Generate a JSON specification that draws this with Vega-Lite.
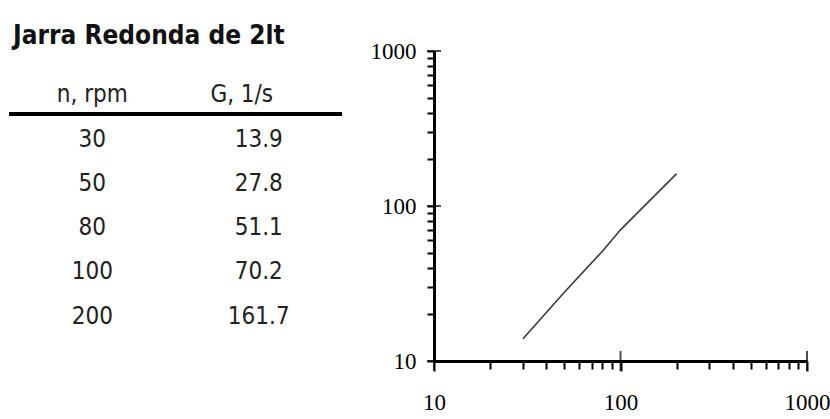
{
  "$schema": "https://vega.github.io/schema/vega-lite/v6.json",
  "padding": {"left": 7, "top": 23, "right": 0, "bottom": 0},
  "autosize": {"type": "pad"},
  "spacing": 26,
  "config": {
    "view": {"stroke": null},
    "axis": {
      "domainColor": "black",
      "tickColor": "black",
      "labelColor": "black",
      "labelFont": "Liberation Serif, DejaVu Serif, serif",
      "labelFontSize": 23,
      "grid": false,
      "title": null
    }
  },
  "datasets": {
    "table": [
      {"row": 0, "col": "n, rpm", "text": "n, rpm"},
      {"row": 0, "col": "G, 1/s", "text": "G, 1/s"},
      {"row": 1, "col": "n, rpm", "text": "30"},
      {"row": 1, "col": "G, 1/s", "text": "13.9"},
      {"row": 2, "col": "n, rpm", "text": "50"},
      {"row": 2, "col": "G, 1/s", "text": "27.8"},
      {"row": 3, "col": "n, rpm", "text": "80"},
      {"row": 3, "col": "G, 1/s", "text": "51.1"},
      {"row": 4, "col": "n, rpm", "text": "100"},
      {"row": 4, "col": "G, 1/s", "text": "70.2"},
      {"row": 5, "col": "n, rpm", "text": "200"},
      {"row": 5, "col": "G, 1/s", "text": "161.7"}
    ],
    "series": [
      {"n": 30, "G": 13.9},
      {"n": 50, "G": 27.8},
      {"n": 80, "G": 51.1},
      {"n": 100, "G": 70.2},
      {"n": 200, "G": 161.7}
    ],
    "majors": [
      {"v": 10},
      {"v": 100},
      {"v": 1000}
    ]
  },
  "hconcat": [
    {
      "width": 333,
      "height": 310,
      "title": {
        "text": "Jarra Redonda de 2lt",
        "anchor": "start",
        "font": "DejaVu Sans Condensed, sans-serif",
        "fontSize": 26,
        "fontWeight": "bold",
        "color": "#111",
        "offset": 2,
        "dx": 6
      },
      "layer": [
        {
          "data": {"values": [{}]},
          "mark": {"type": "rule", "color": "black", "strokeWidth": 4},
          "encoding": {"y": {"datum": 0.42, "type": "quantitative"}}
        },
        {
          "data": {"name": "table"},
          "transform": [{"filter": "datum.row > 0 || datum.col == 'n, rpm'"}],
          "mark": {"type": "text", "font": "DejaVu Sans Condensed, sans-serif", "fontSize": 24, "color": "#222"},
          "encoding": {
            "x": {"field": "col", "type": "nominal", "scale": {"type": "point", "domain": ["n, rpm", "G, 1/s"], "padding": 0.5}, "axis": null},
            "y": {"field": "row", "type": "quantitative", "scale": {"domain": [-0.68, 5.52], "reverse": true}, "axis": null},
            "text": {"field": "text"}
          }
        },
        {
          "data": {"name": "table"},
          "transform": [{"filter": "datum.row == 0 && datum.col == 'G, 1/s'"}],
          "mark": {"type": "text", "font": "DejaVu Sans Condensed, sans-serif", "fontSize": 24, "color": "#222", "dx": -17},
          "encoding": {
            "x": {"field": "col", "type": "nominal"},
            "y": {"field": "row", "type": "quantitative"},
            "text": {"field": "text"}
          }
        }
      ]
    },
    {
      "width": 373,
      "height": 310,
      "layer": [
        {
          "data": {"name": "series"},
          "mark": {"type": "line", "color": "#3a3a3a", "strokeWidth": 1.6},
          "encoding": {
            "x": {
              "field": "n",
              "type": "quantitative",
              "scale": {"type": "log", "domain": [10, 1000], "nice": false},
              "axis": {
                "values": [10, 20, 30, 40, 50, 60, 70, 80, 90, 100, 200, 300, 400, 500, 600, 700, 800, 900, 1000],
                "labelExpr": "datum.value == 10 || datum.value == 100 || datum.value == 1000 ? format(datum.value, 'd') : ''",
                "tickSize": {"condition": {"test": "datum.value == 10 || datum.value == 100 || datum.value == 1000", "value": 10}, "value": 8},
                "tickWidth": 2,
                "domainWidth": 3,
                "labelPadding": 20,
                "labelFlush": false
              }
            },
            "y": {
              "field": "G",
              "type": "quantitative",
              "scale": {"type": "log", "domain": [10, 1000], "nice": false},
              "axis": {
                "values": [10, 20, 30, 40, 50, 60, 70, 80, 90, 100, 200, 300, 400, 500, 600, 700, 800, 900, 1000],
                "labelExpr": "datum.value == 10 || datum.value == 100 || datum.value == 1000 ? format(datum.value, 'd') : ''",
                "tickSize": 7,
                "tickWidth": 2,
                "domainWidth": 3,
                "labelPadding": 11,
                "labelFlush": false
              }
            }
          }
        },
        {
          "data": {"name": "majors"},
          "mark": {"type": "tick", "orient": "vertical", "size": 20, "thickness": 2, "color": "black"},
          "encoding": {
            "x": {"field": "v", "type": "quantitative"},
            "y": {"datum": 10, "type": "quantitative"}
          }
        },
        {
          "data": {"name": "majors"},
          "mark": {"type": "tick", "orient": "horizontal", "size": 14, "thickness": 2, "color": "black"},
          "encoding": {
            "x": {"datum": 10, "type": "quantitative"},
            "y": {"field": "v", "type": "quantitative"}
          }
        }
      ]
    }
  ]
}
